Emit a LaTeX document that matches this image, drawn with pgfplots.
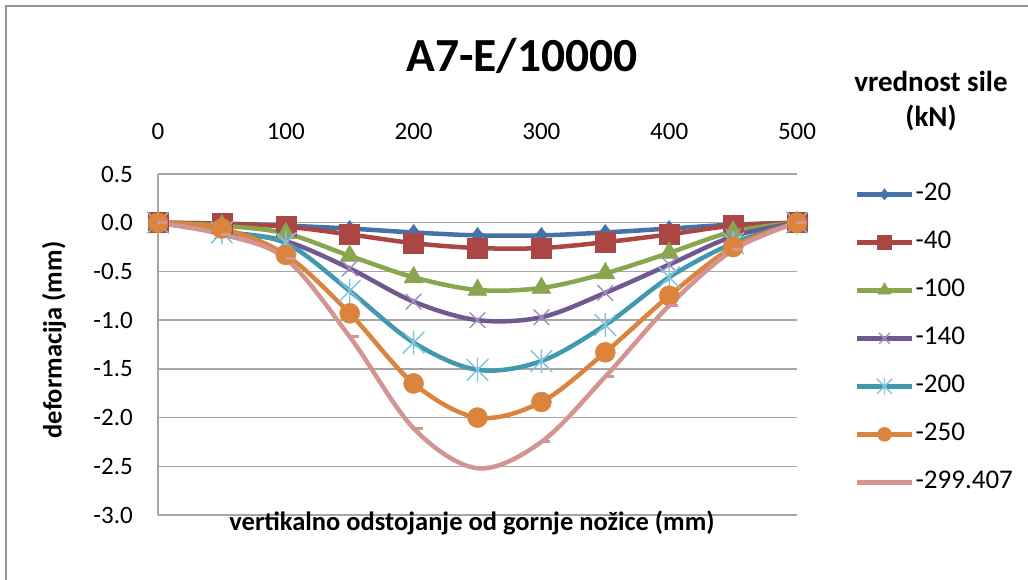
\documentclass[border=0pt]{standalone}
\usepackage{fontspec}
\setmainfont{Carlito}
\usepackage{pgfplots}
\pgfplotsset{compat=1.18}

\definecolor{cBlue}{HTML}{4572A7}
\definecolor{cRed}{HTML}{AA4643}
\definecolor{cGreen}{HTML}{89A54E}
\definecolor{cPurple}{HTML}{71588F}
\definecolor{cPurpleL}{HTML}{A290C4}
\definecolor{cCyan}{HTML}{4198AF}
\definecolor{cCyanL}{HTML}{7FC6DA}
\definecolor{cOrange}{HTML}{DB843D}
\definecolor{cPink}{HTML}{D49492}

% Excel-like star: an x plus a vertical bar
\pgfdeclareplotmark{xstar}{%
  \pgfpathmoveto{\pgfqpoint{-0.9\pgfplotmarksize}{-0.9\pgfplotmarksize}}%
  \pgfpathlineto{\pgfqpoint{0.9\pgfplotmarksize}{0.9\pgfplotmarksize}}%
  \pgfpathmoveto{\pgfqpoint{-0.9\pgfplotmarksize}{0.9\pgfplotmarksize}}%
  \pgfpathlineto{\pgfqpoint{0.9\pgfplotmarksize}{-0.9\pgfplotmarksize}}%
  \pgfpathmoveto{\pgfqpoint{0pt}{-\pgfplotmarksize}}%
  \pgfpathlineto{\pgfqpoint{0pt}{\pgfplotmarksize}}%
  \pgfusepathqstroke}

\pgfplotstableread{
x   s20   s40   s100  s140  s200  s250  s299
0   0     0     0     0     0     0     0
50  -0.01 -0.01 -0.03 -0.09 -0.10 -0.06 -0.12
100 -0.03 -0.04 -0.11 -0.19 -0.21 -0.33 -0.37
150 -0.06 -0.12 -0.34 -0.47 -0.70 -0.93 -1.17
200 -0.10 -0.21 -0.56 -0.81 -1.23 -1.65 -2.11
250 -0.13 -0.26 -0.69 -1.00 -1.51 -2.00 -2.52
300 -0.13 -0.26 -0.67 -0.97 -1.42 -1.84 -2.25
350 -0.10 -0.20 -0.52 -0.72 -1.05 -1.33 -1.58
400 -0.06 -0.12 -0.31 -0.43 -0.56 -0.75 -0.85
450 -0.02 -0.03 -0.09 -0.14 -0.21 -0.25 -0.28
500 0     0     0     0     0     0     0
}\datatable

\begin{document}
\begin{tikzpicture}
\path[use as bounding box] (0pt,0pt) rectangle (1028pt,580pt);
\draw[gray!85, line width=2pt] (6pt,0pt) -- (6pt,574pt) -- (1028pt,574pt);

\begin{axis}[
  at={(158pt,65pt)}, anchor=south west,
  scale only axis, width=639pt, height=341pt,
  xmin=0, xmax=500, ymin=-3, ymax=0.5,
  xtick={0,100,...,500},
  ytick={-3,-2.5,...,0.5},
  xticklabel pos=top,
  major tick length=0pt,
  axis line style={draw=none},
  ymajorgrids,
  grid style={gray!70, line width=1.5pt},
  tick label style={font=\fontsize{25}{30}\selectfont, inner sep=0pt},
  /pgf/number format/assume math mode=true,
  yticklabel style={/pgf/number format/.cd, fixed, fixed zerofill, precision=1},
  xticklabel style={anchor=south},
  xticklabel shift=34pt,
  yticklabel shift=25pt,
  clip=false,
  legend style={at={(axis description cs:1.0908,0.982)}, anchor=north west,
    draw=none, fill=none, inner sep=0pt,
    font=\fontsize{27}{32}\selectfont,
    row sep=20pt, column sep=0pt,
    nodes={inner sep=2pt, text height=18pt, text depth=6pt}},
  legend cell align=left,
  legend image code/.code={%
    \draw[#1, mark repeat=2, mark phase=2, every mark/.append style={scale=0.7}]
      plot coordinates {(0pt,0pt) (27pt,0pt) (54pt,0pt)};},
  every axis plot/.append style={line width=4.5pt, smooth, tension=0.55},
]
\draw[gray!70, line width=1.5pt] (rel axis cs:0,0) -- (rel axis cs:0,1);

\addplot[cBlue, mark=diamond*, mark size=8pt,
  mark options={solid, line width=0.5pt, fill=cBlue, draw=cBlue}]
  table[x=x, y=s20] {\datatable};
\addplot[cRed, mark=square*, mark size=10pt,
  mark options={solid, line width=0.5pt, fill=cRed, draw=cRed}]
  table[x=x, y=s40] {\datatable};
\addplot[cGreen, mark=triangle*, mark size=11pt,
  mark options={solid, line width=0.5pt, fill=cGreen, draw=cGreen}]
  table[x=x, y=s100] {\datatable};
\addplot[cPurple, mark=x, mark size=11pt,
  mark options={solid, line width=1.4pt, draw=cPurpleL}]
  table[x=x, y=s140] {\datatable};
\addplot[cCyan, mark=xstar, mark size=12pt,
  mark options={solid, line width=1.4pt, draw=cCyanL}]
  table[x=x, y=s200] {\datatable};
\addplot[cOrange, mark=*, mark size=10pt,
  mark options={solid, line width=0.5pt, fill=cOrange, draw=cOrange}]
  table[x=x, y=s250] {\datatable};
\addplot[cPink, mark=-, mark size=5pt,
  mark options={solid, line width=3pt, draw=cPink, xshift=4pt}]
  table[x=x, y=s299] {\datatable};
\legend{-20,-40,-100,-140,-200,-250,-299.407}
\end{axis}

\node[anchor=base, font=\fontsize{47.5}{56}\selectfont\bfseries] at (522pt,508pt) {A7-E/10000};
\node[anchor=base, font=\fontsize{26.5}{32}\selectfont\bfseries] at (472pt,49pt)
  {vertikalno odstojanje od gornje nožice (mm)};
\node[rotate=90, font=\fontsize{26.5}{32}\selectfont\bfseries] at (54pt,240pt)
  {deformacija (mm)};
\node[anchor=base, font=\fontsize{29}{34}\selectfont\bfseries] at (931pt,488pt) {vrednost sile};
\node[anchor=base, font=\fontsize{29}{34}\selectfont\bfseries] at (931pt,453pt) {(kN)};
\end{tikzpicture}
\end{document}
